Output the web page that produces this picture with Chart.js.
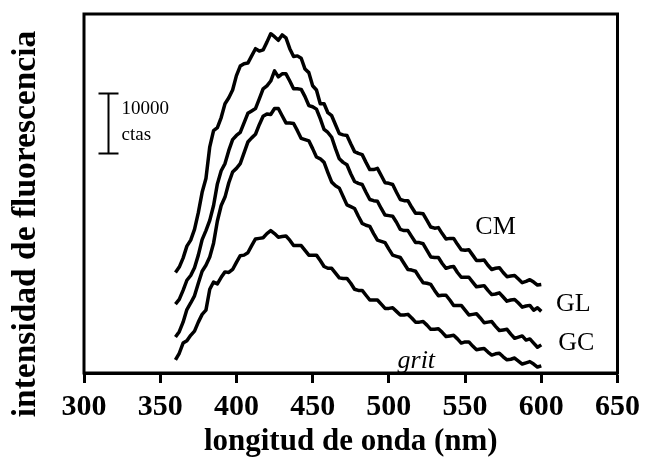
<!DOCTYPE html>
<html>
<head>
<meta charset="utf-8">
<script src="https://cdn.jsdelivr.net/npm/chart.js@4.4.1/dist/chart.umd.min.js"></script>
<style>
  html, body { margin: 0; padding: 0; background: #fff; }
  canvas { display: block; }
</style>
</head>
<body>
<canvas id="myChart" width="646" height="459"></canvas>
<script>
// wavelength (nm), read every 2.5 nm
var wavelengths = [360, 362.5, 365, 367.5, 370, 372.5, 375, 377.5, 380, 382.5,
  385, 387.5, 390, 392.5, 395, 397.5, 400, 402.5, 405, 407.5,
  410, 412.5, 415, 417.5, 420, 422.5, 425, 427.5, 430, 432.5,
  435, 437.5, 440, 442.5, 445, 447.5, 450, 452.5, 455, 457.5,
  460, 462.5, 465, 467.5, 470, 472.5, 475, 477.5, 480, 482.5,
  485, 487.5, 490, 492.5, 495, 497.5, 500, 502.5, 505, 507.5,
  510, 512.5, 515, 517.5, 520, 522.5, 525, 527.5, 530, 532.5,
  535, 537.5, 540, 542.5, 545, 547.5, 550, 552.5, 555, 557.5,
  560, 562.5, 565, 567.5, 570, 572.5, 575, 577.5, 580, 582.5,
  585, 587.5, 590, 592.5, 595, 597.5, 600];

// counts (curves are offset vertically, as in the figure)
var cm = [16800, 17700, 19200, 21200, 22200, 24000, 26800, 30200, 32500, 37800,
  40500, 41000, 42700, 45000, 46000, 47300, 49700, 51300, 51700, 51800,
  53000, 54200, 53800, 54000, 55300, 56700, 56200, 55600, 56500, 56000,
  54200, 52900, 53000, 52600, 50800, 50200, 48000, 47300, 45000, 45000,
  43500, 43000, 41500, 40000, 39800, 39700, 38300, 37000, 36700, 36500,
  35200, 34000, 34000, 34200, 33000, 31800, 31700, 31500, 30200, 29000,
  28800, 28800, 27700, 26700, 26700, 26600, 25500, 24400, 24200, 24300,
  23300, 22400, 22500, 22500, 21500, 20600, 20500, 20600, 19700, 18800,
  18800, 18900, 18000, 17300, 17500, 17600, 16800, 16100, 16200, 16300,
  15700, 15100, 15300, 15600, 15200, 14700, 14800];
var gl = [11500, 12300, 13800, 15500, 16300, 17600, 19700, 22300, 23800, 25500,
  28000, 31600, 33800, 35000, 37200, 39000, 39700, 40200, 41800, 43400,
  43800, 44200, 45800, 47500, 48000, 48800, 50500, 49500, 50000, 50000,
  48800, 47500, 47500, 47400, 46200, 44700, 44500, 44100, 42500, 40700,
  40200, 39400, 37500, 35800, 35200, 34800, 33300, 32000, 31700, 31500,
  30200, 29000, 28800, 28700, 27500, 26400, 26300, 26200, 25200, 24000,
  23800, 23800, 22800, 21800, 21800, 21600, 20500, 19400, 19300, 19300,
  18300, 17500, 17700, 17800, 16800, 16000, 16000, 16000, 15200, 14400,
  14500, 14600, 13800, 13100, 13200, 13400, 12700, 12000, 12200, 12300,
  11700, 11000, 11200, 11300, 10500, 10900, 10300];
var gc = [6000, 6900, 8500, 10600, 11700, 12900, 15000, 17000, 18000, 19400,
  21700, 25400, 28000, 29400, 31800, 33600, 34200, 35000, 36800, 38600,
  39300, 39900, 41500, 42900, 43300, 43200, 44200, 44200, 43000, 41800,
  41800, 41700, 40500, 39200, 39000, 38800, 37500, 36100, 35800, 35200,
  33500, 31900, 31300, 30900, 29500, 28100, 27800, 27500, 26200, 25000,
  24700, 24500, 23300, 22200, 22000, 21800, 20700, 19700, 19500, 19300,
  18300, 17300, 17200, 17000, 16000, 15100, 15000, 14800, 13800, 12900,
  13000, 13000, 12200, 11300, 11300, 11300, 10500, 9700, 9800, 9900,
  9200, 8400, 8500, 8600, 7800, 7100, 7200, 7300, 6500, 5800,
  6000, 6200, 5500, 5700, 5000, 4300, 4700];
var grit = [2200, 3300, 5000, 5400, 6300, 7000, 8500, 9800, 10500, 14000,
  15200, 14900, 16000, 16900, 16800, 17300, 18500, 19600, 19700, 20100,
  21300, 22400, 22500, 22600, 23300, 23800, 23300, 22700, 22800, 22900,
  22200, 21300, 21300, 21300, 20500, 19700, 19700, 19700, 18800, 17800,
  17500, 17500, 16700, 15900, 15800, 15800, 15000, 14000, 13800, 13800,
  13000, 12200, 12200, 12200, 11500, 10800, 10800, 10900, 10300, 9700,
  9700, 9800, 9200, 8500, 8500, 8600, 8000, 7300, 7300, 7400,
  6800, 6100, 6200, 6300, 5700, 5000, 5200, 5200, 4500, 3900,
  4000, 4100, 3500, 3000, 3200, 3300, 2700, 2200, 2300, 2500,
  2000, 1500, 1700, 1900, 1500, 1000, 1200];

var xTicks = [300, 350, 400, 450, 500, 550, 600, 650];
var seriesNames = ['CM', 'GL', 'GC', 'grit'];

var serif = '"Liberation Serif", "Times New Roman", serif';

function points(vals) {
  return wavelengths.map(function(w, i) { return {x: w, y: vals[i]}; });
}

function lineSet(label, vals) {
  return {
    label: label,
    data: points(vals),
    borderColor: '#000',
    borderWidth: 3.5,
    borderJoinStyle: 'round',
    pointRadius: 0,
    tension: 0,
    fill: false
  };
}

var overlay = {
  id: 'overlay',
  afterDraw: function(chart) {
    var ctx = chart.ctx, a = chart.chartArea, x = chart.scales.x, y = chart.scales.y;
    ctx.save();
    ctx.strokeStyle = '#000';
    ctx.lineWidth = 3;
    ctx.strokeRect(a.left, a.top, a.right - a.left, a.bottom - a.top);

    // 10000 counts scale bar
    var bx = Math.round(x.getPixelForValue(316)) + 0.5;
    var bTop = y.getPixelForValue(46700), bBot = y.getPixelForValue(46700 - 10000);
    ctx.lineWidth = 2;
    ctx.beginPath();
    ctx.moveTo(bx, bTop); ctx.lineTo(bx, bBot);
    ctx.moveTo(bx - 10, bTop); ctx.lineTo(bx + 10, bTop);
    ctx.moveTo(bx - 10, bBot); ctx.lineTo(bx + 10, bBot);
    ctx.stroke();
    ctx.fillStyle = '#000';
    ctx.font = '19px ' + serif;
    ctx.textAlign = 'left';
    ctx.textBaseline = 'alphabetic';
    ctx.fillText('10000', bx + 13, bTop + 20);
    ctx.fillText('ctas', bx + 13, bTop + 46);

    // curve labels
    ctx.textAlign = 'center';
    ctx.textBaseline = 'middle';
    ctx.font = '26px ' + serif;
    ctx.fillText(seriesNames[0], x.getPixelForValue(570), y.getPixelForValue(24300));
    ctx.fillText(seriesNames[1], x.getPixelForValue(621), y.getPixelForValue(11500));
    ctx.fillText(seriesNames[2], x.getPixelForValue(623), y.getPixelForValue(5000));
    ctx.font = 'italic 26px ' + serif;
    ctx.fillText(seriesNames[3], x.getPixelForValue(518), y.getPixelForValue(2000));

    // axis titles
    ctx.font = 'bold 31px ' + serif;
    ctx.textBaseline = 'alphabetic';
    ctx.fillText('longitud de onda (nm)', (a.left + a.right) / 2, 450);
    ctx.translate(35, 224);
    ctx.rotate(-Math.PI / 2);
    ctx.font = 'bold 33.5px ' + serif;
    ctx.fillText('intensidad de fluorescencia', 0, 0);
    ctx.restore();
  }
};

var ctx = document.getElementById('myChart');
var chart = new Chart(ctx, {
  type: 'line',
  data: {
    datasets: [lineSet('CM', cm), lineSet('GL', gl), lineSet('GC', gc), lineSet('grit', grit)]
  },
  options: {
    responsive: false,
    animation: false,
    layout: { padding: { left: 84, top: 14, right: 24, bottom: 0 } },
    plugins: { legend: { display: false }, tooltip: { enabled: false } },
    scales: {
      x: {
        type: 'linear',
        min: 300,
        max: 650,
        afterBuildTicks: function(s) { s.ticks = xTicks.map(function(v) { return {value: v}; }); },
        afterFit: function(s) { s.height = 86; },
        ticks: { color: '#000', padding: 6, maxRotation: 0, font: { family: serif, size: 30, weight: 'bold' } },
        grid: { drawOnChartArea: false, drawTicks: true, tickLength: 10, tickColor: '#000', tickWidth: 3 },
        border: { display: true, color: '#000', width: 3 }
      },
      y: {
        display: false,
        min: 0,
        max: 60000
      }
    }
  },
  plugins: [overlay]
});
</script>
</body>
</html>
